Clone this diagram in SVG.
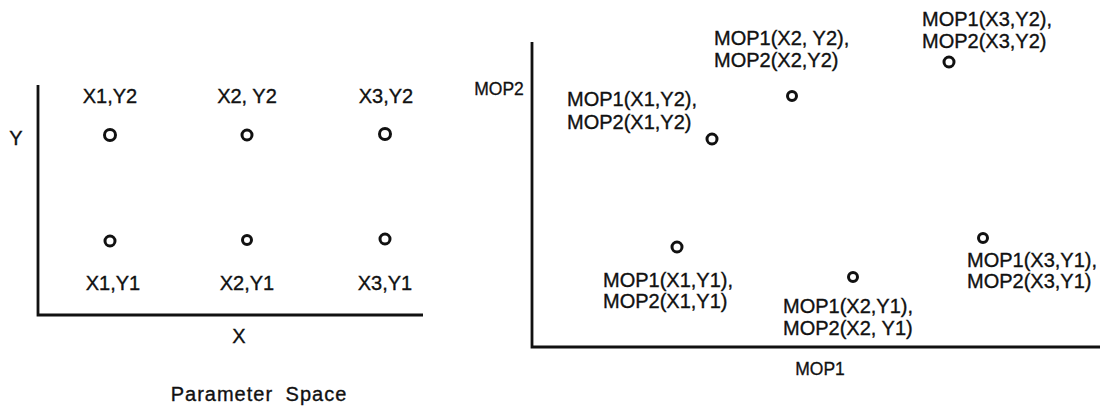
<svg xmlns="http://www.w3.org/2000/svg" width="1104" height="407" viewBox="0 0 1104 407">
<style>
  .t { font-family: "Liberation Sans", Arial, sans-serif; font-size: 20px; fill: #111; stroke: #111; stroke-width: 0.35; }
  .ax { font-family: "Liberation Sans", Arial, sans-serif; font-size: 17.5px; fill: #111; stroke: #111; stroke-width: 0.3; }
  .c { text-anchor: middle; }
  .pt { fill: none; stroke: #111; stroke-width: 3; }
  .axis { stroke: #111; stroke-width: 2.8; fill: none; }
</style>
<rect width="1104" height="407" fill="#fff"/>

<g id="axes">
  <path class="axis" d="M38,85 V315 H423"/>
  <path class="axis" d="M532,42 V347 H1100"/>
</g>

<g id="param-labels">
  <text class="t c" x="16" y="145">Y</text>
  <text class="t c" x="239" y="343">X</text>
  <text class="t c" x="259" y="401" letter-spacing="1" word-spacing="6">Parameter Space</text>
  <text class="ax c" x="499" y="95">MOP2</text>
  <text class="ax c" x="820" y="375">MOP1</text>
</g>

<g id="p-x1y2">
  <text class="t c" x="110" y="103">X1,Y2</text>
  <circle class="pt" cx="110" cy="135" r="5.5"/>
</g>
<g id="p-x2y2">
  <text class="t c" x="247" y="103">X2, Y2</text>
  <circle class="pt" cx="247" cy="135" r="5"/>
</g>
<g id="p-x3y2">
  <text class="t c" x="386" y="103">X3,Y2</text>
  <circle class="pt" cx="385" cy="134" r="5.5"/>
</g>
<g id="p-x1y1">
  <circle class="pt" cx="110" cy="241" r="5"/>
  <text class="t c" x="113" y="290">X1,Y1</text>
</g>
<g id="p-x2y1">
  <circle class="pt" cx="247" cy="240" r="4.5"/>
  <text class="t c" x="247" y="290">X2,Y1</text>
</g>
<g id="p-x3y1">
  <circle class="pt" cx="385" cy="239" r="5"/>
  <text class="t c" x="385" y="290">X3,Y1</text>
</g>

<g id="m-x1y2">
  <text class="t" x="567" y="106">MOP1(X1,Y2),</text>
  <text class="t" x="567" y="129">MOP2(X1,Y2)</text>
  <circle class="pt" cx="712" cy="139" r="5"/>
</g>
<g id="m-x2y2">
  <text class="t" x="714" y="45">MOP1(X2, Y2),</text>
  <text class="t" x="714" y="67">MOP2(X2,Y2)</text>
  <circle class="pt" cx="792" cy="96" r="4.5"/>
</g>
<g id="m-x3y2">
  <text class="t" x="922" y="26">MOP1(X3,Y2),</text>
  <text class="t" x="922" y="48">MOP2(X3,Y2)</text>
  <circle class="pt" cx="949" cy="62" r="5"/>
</g>
<g id="m-x1y1">
  <circle class="pt" cx="677" cy="247" r="5"/>
  <text class="t" x="603" y="287">MOP1(X1,Y1),</text>
  <text class="t" x="603" y="308">MOP2(X1,Y1)</text>
</g>
<g id="m-x2y1">
  <circle class="pt" cx="853" cy="277" r="4.5"/>
  <text class="t" x="783" y="313">MOP1(X2,Y1),</text>
  <text class="t" x="783" y="335">MOP2(X2, Y1)</text>
</g>
<g id="m-x3y1">
  <circle class="pt" cx="983" cy="238" r="4.5"/>
  <text class="t" x="967" y="267">MOP1(X3,Y1),</text>
  <text class="t" x="967" y="288">MOP2(X3,Y1)</text>
</g>
</svg>
